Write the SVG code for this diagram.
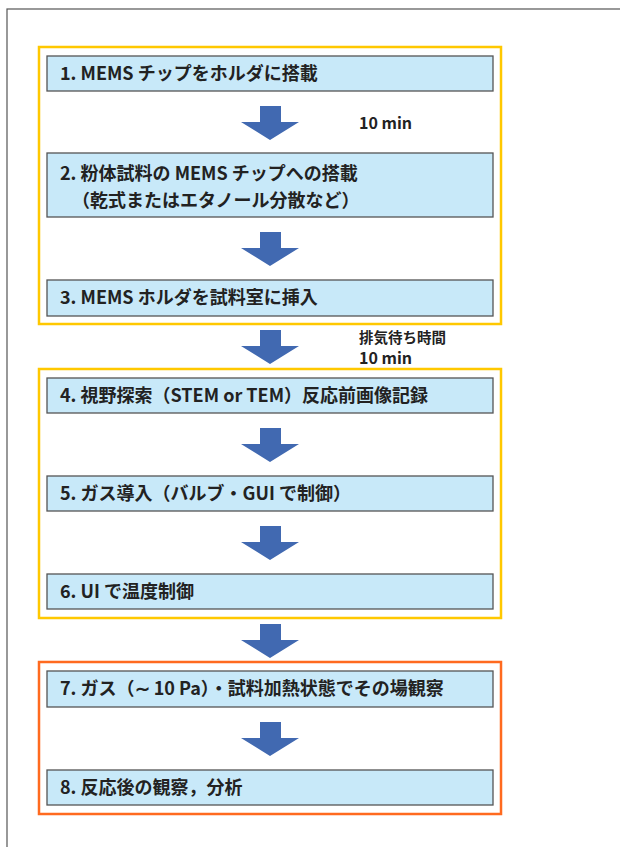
<svg xmlns="http://www.w3.org/2000/svg" width="620" height="847" viewBox="0 0 620 847">
<defs>
<style>
.frame{fill:none;stroke:#555;stroke-width:1.2}
.grpY{fill:none;stroke:#FFC800;stroke-width:2.5}
.grpO{fill:none;stroke:#FF6A1F;stroke-width:2.5}
.box{fill:#C8E9F9;stroke:#555;stroke-width:1.3}
.t{font-family:"Noto Sans CJK JP","Noto Sans",sans-serif;font-size:18px;font-weight:bold;fill:#222}
.s{font-family:"Noto Sans CJK JP","Noto Sans",sans-serif;font-size:14.5px;font-weight:bold;fill:#222}
.m{font-size:16px}
.arr{fill:#4169B1}
</style>
<path id="arrow" class="arr" d="M260,0 H281 V16 H299 L270,34 L241,16 H260 Z"/>
</defs>
<rect width="620" height="847" fill="#fff"/>
<rect class="frame" x="7" y="9" width="640" height="860"/>
<g id="group1"><rect class="grpY" x="39" y="47" width="462" height="277"/></g>
<g id="group2"><rect class="grpY" x="39" y="369" width="462" height="249"/></g>
<g id="group3"><rect class="grpO" x="39" y="662" width="462" height="152"/></g>
<g id="step1"><rect class="box" x="47" y="56" width="446" height="35"/><text class="t" x="60" y="80">1. MEMS チップをホルダに搭載</text></g>
<g id="step2"><rect class="box" x="47" y="153" width="446" height="64"/><text class="t" x="60" y="180">2. 粉体試料の MEMS チップへの搭載</text><text class="t" x="72" y="207">（乾式またはエタノール分散など）</text></g>
<g id="step3"><rect class="box" x="47" y="280" width="446" height="36"/><text class="t" x="60" y="304">3. MEMS ホルダを試料室に挿入</text></g>
<g id="step4"><rect class="box" x="47" y="378" width="446" height="35"/><text class="t" x="60" y="402">4. 視野探索（STEM or TEM）反応前画像記録</text></g>
<g id="step5"><rect class="box" x="47" y="476" width="446" height="35"/><text class="t" x="60" y="500">5. ガス導入（バルブ・GUI で制御）</text></g>
<g id="step6"><rect class="box" x="47" y="574" width="446" height="35"/><text class="t" x="60" y="598">6. UI で温度制御</text></g>
<g id="step7"><rect class="box" x="47" y="671" width="446" height="36"/><text class="t" x="60" y="695">7. ガス（∼ 10 Pa）・試料加熱状態でその場観察</text></g>
<g id="step8"><rect class="box" x="47" y="770" width="446" height="35"/><text class="t" x="60" y="794">8. 反応後の観察，分析</text></g>
<g id="connectors">
<use href="#arrow" y="106"/>
<use href="#arrow" y="232"/>
<use href="#arrow" y="330"/>
<use href="#arrow" y="428"/>
<use href="#arrow" y="526"/>
<use href="#arrow" y="624"/>
<use href="#arrow" y="722"/>
</g>
<g id="labels">
<text class="s m" x="359" y="129">10 min</text>
<text class="s" x="359" y="343">排気待ち時間</text>
<text class="s m" x="359" y="364">10 min</text>
</g>
</svg>
